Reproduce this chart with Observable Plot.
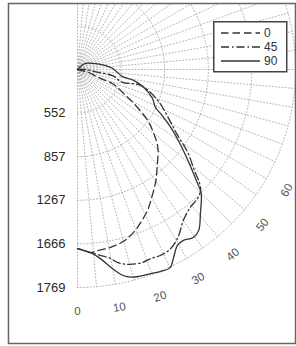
<!DOCTYPE html>
<html><head><meta charset="utf-8">
<script src="https://cdn.jsdelivr.net/npm/d3@7"></script>
<script src="https://cdn.jsdelivr.net/npm/@observablehq/plot@0.6"></script>
<style>
body{margin:0;background:#fff;}
#wrap{position:relative;width:296px;height:346px;font-family:"Liberation Sans",Arial,sans-serif;}
#legend{position:absolute;left:213px;top:21px;}
</style></head><body><div id="wrap"></div>
<script>
// ---- data (angle in degrees from the downward axis, radius in ring units) ----
const seriesNames = ["0", "45", "90"];
const theta0 = [75,75,69,68,63,59,54,50,46,39,35,30,26.4,22.4,19,15,10.5,6.3,4.1,1.9,0];
const r0     = [0,0.26,0.52,0.87,1.16,1.50,1.99,2.28,2.56,2.90,3.13,3.40,3.61,3.80,3.95,4.08,4.15,4.18,4.21,4.15,4.11];
const theta45 = [90,90,82,80,74,76,69,62,57,53,49,47,45.5,43,39,35,31,27.5,24,21,18.6,14.7,11.7,9.9,6.2,4.1,1.9,0];
const r45     = [0,0.18,0.49,0.82,1.07,1.49,1.97,2.36,2.72,3.17,3.56,3.83,3.96,4.04,4.09,4.23,4.48,4.63,4.67,4.65,4.67,4.62,4.52,4.40,4.27,4.21,4.15,4.11];
const theta90 = [100,135,127,108,98,92,81,79,75,69,64,62,58,54,50,47,45,40.5,37,34.6,31.8,29.6,27.1,25,22.5,19.5,16.5,14.5,12.5,10,6.9,4.1,1.9,0];
const r90     = [0,0.10,0.23,0.44,0.65,0.80,1.05,1.31,1.57,1.84,1.99,2.16,2.53,2.91,3.34,3.72,4.01,4.34,4.62,4.68,4.61,4.64,4.84,5.02,5.01,4.97,4.95,4.92,4.84,4.64,4.37,4.21,4.15,4.11];
const ringRadii  = [1, 2, 3, 4, 5];
const ringLabels = ["552", "857", "1267", "1666", "1769"];
const angleTicks = [0, 10, 20, 30, 40, 50, 60];
const angleTickLabels = ["0", "10", "20", "30", "40", "50", "60"];

// ---- layout ----
const W = 296, H = 346;
const mL = 8, mR = 1, mT = 3, mB = 3;
const cx = 77, cy = 69, unit = 43.6;
const rad = Math.PI / 180;
const X = d => d.r * Math.sin(d.t * rad);
const Y = d => -d.r * Math.cos(d.t * rad);

const thetas = [theta0, theta45, theta90];
const radii = [r0, r45, r90];
const dashes = ["7.5,4", "8,3,1.5,3", null];
const series = seriesNames.map((name, i) => thetas[i].map((t, j) => ({name, t, r: radii[i][j]})));

const rMax = d3.max(ringRadii);
const spokes = d3.range(0, 181, 5).flatMap(a => [{a, t: a, r: 0}, {a, t: a, r: rMax}]);
const rings = ringRadii.flatMap(r => d3.range(0, 181, 1).map(t => ({ring: r, t, r})));
const ringText = ringRadii.map((r, i) => ({t: 0, r, label: ringLabels[i]}));
const angleText = angleTicks.map((t, i) => ({t, r: rMax * 1.108, label: angleTickLabels[i]}));

const gridStyle = {stroke: "#ababab", strokeWidth: 0.9, strokeDasharray: "1,2.2", clip: true};

const chart = Plot.plot({
  width: W, height: H,
  marginLeft: mL, marginRight: mR, marginTop: mT, marginBottom: mB,
  x: {domain: [(mL - cx) / unit, (W - mR - cx) / unit], axis: null},
  y: {domain: [-(H - mB - cy) / unit, (cy - mT) / unit], axis: null},
  style: {fontFamily: "'Liberation Sans', Arial, sans-serif", background: "white"},
  marks: [
    Plot.line(spokes, {x: X, y: Y, z: "a", ...gridStyle}),
    Plot.line(rings, {x: X, y: Y, z: "ring", ...gridStyle}),
    Plot.text(ringText, {x: X, y: Y, text: "label", dx: -12, textAnchor: "end", fontSize: 13, fill: "#2a2a2a"}),
    Plot.text(angleText, {x: X, y: Y, text: "label", rotate: d => -d.t, fontSize: 11.5, fill: "#555"}),
    ...series.map((s, i) => Plot.line(s, {x: X, y: Y, curve: "catmull-rom", stroke: "#333", strokeWidth: 1.3,
      strokeDasharray: dashes[i] || undefined, clip: true})),
    Plot.frame({stroke: "#666", strokeWidth: 1.5})
  ]
});
const wrap = document.getElementById("wrap");
wrap.appendChild(chart);

// ---- legend ----
const lg = d3.select(wrap).append("svg").attr("id", "legend").attr("width", 75).attr("height", 52);
lg.append("rect").attr("x", 0.75).attr("y", 0.75).attr("width", 73).attr("height", 50)
  .attr("fill", "white").attr("stroke", "#444").attr("stroke-width", 1.5);
seriesNames.forEach((name, i) => {
  const yy = 12 + i * 14;
  lg.append("line").attr("x1", 8).attr("x2", 47).attr("y1", yy).attr("y2", yy)
    .attr("stroke", "#333").attr("stroke-width", 1.3).attr("stroke-dasharray", dashes[i]);
  lg.append("text").attr("x", 51).attr("y", yy).attr("dy", "0.35em").attr("font-size", 12)
    .attr("fill", "#333").attr("font-family", "'Liberation Sans', Arial, sans-serif").text(name);
});
</script>
</body></html>
